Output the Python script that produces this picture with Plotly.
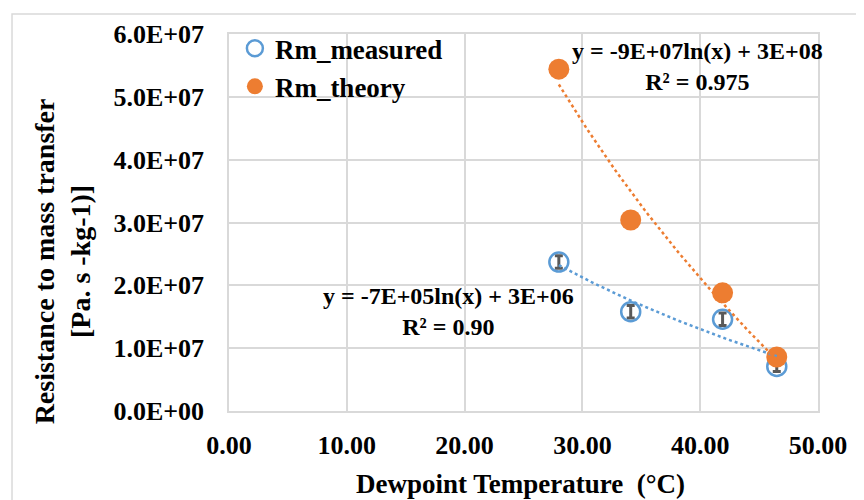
import numpy as np
import plotly.graph_objects as go

# Data
dewpoint_measured = [28.0, 34.1, 41.9, 46.5]
rm_measured = [2.37e7, 1.58e7, 1.46e7, 0.71e7]
rm_measured_err = [1.0e6, 1.0e6, 1.0e6, 0.8e6]

dewpoint_theory = [28.0, 34.1, 41.9, 46.5]
rm_theory = [5.44e7, 3.04e7, 1.88e7, 0.86e7]

x_ticks = [0, 10, 20, 30, 40, 50]
x_tick_labels = ["0.00", "10.00", "20.00", "30.00", "40.00", "50.00"]
y_ticks = [0, 1e7, 2e7, 3e7, 4e7, 5e7, 6e7]
y_tick_labels = ["0.0E+00", "1.0E+07", "2.0E+07", "3.0E+07", "4.0E+07", "5.0E+07", "6.0E+07"]

eq_measured = "y = -7E+05ln(x) + 3E+06<br>R² = 0.90"
eq_theory = "y = -9E+07ln(x) + 3E+08<br>R² = 0.975"

BLUE = "#5B9BD5"
ORANGE = "#ED7D31"
GRID = "#D9D9D9"
FONT = "Liberation Serif"


def log_fit(xs, ys):
    a, b = np.polyfit(np.log(xs), ys, 1)
    xf = np.linspace(min(xs), max(xs), 60)
    return xf, a * np.log(xf) + b


fig = go.Figure()

fig.add_trace(go.Scatter(
    x=dewpoint_measured, y=rm_measured, mode="markers", name="Rm_measured",
    marker=dict(symbol="circle-open", size=19, color=BLUE, line=dict(width=2.5, color=BLUE)),
    error_y=dict(type="data", array=rm_measured_err, visible=True,
                 color="#595959", thickness=3, width=4),
))
fig.add_trace(go.Scatter(
    x=dewpoint_theory, y=rm_theory, mode="markers", name="Rm_theory",
    marker=dict(symbol="circle", size=21, color=ORANGE),
))

xf, yf = log_fit(dewpoint_measured, rm_measured)
fig.add_trace(go.Scatter(x=xf, y=yf, mode="lines", showlegend=False, hoverinfo="skip",
                         line=dict(color=BLUE, width=2.5, dash="dot")))
xf, yf = log_fit(dewpoint_theory, rm_theory)
fig.add_trace(go.Scatter(x=xf, y=yf, mode="lines", showlegend=False, hoverinfo="skip",
                         line=dict(color=ORANGE, width=2.5, dash="dot")))

fig.update_layout(
    width=856, height=492,
    margin=dict(l=221, r=46, t=24, b=89),
    paper_bgcolor="white", plot_bgcolor="white",
    font=dict(family=FONT, color="black", size=26),
    showlegend=True,
    legend=dict(x=0.01, y=1.026, xanchor="left", yanchor="top",
                bgcolor="rgba(0,0,0,0)", font=dict(family=FONT, size=27, color="black"),
                tracegroupgap=0, itemwidth=30),
    xaxis=dict(range=[0, 50], tickmode="array", tickvals=x_ticks, ticktext=x_tick_labels,
               showgrid=True, gridcolor=GRID, gridwidth=1.5, zeroline=False,
               showline=True, linecolor=GRID, linewidth=1.5, mirror=True,
               ticks="outside", ticklen=10, tickcolor="rgba(0,0,0,0)",
               tickfont=dict(family=FONT, size=26, color="black")),
    yaxis=dict(range=[0, 6e7], tickmode="array", tickvals=y_ticks, ticktext=y_tick_labels,
               showgrid=True, gridcolor=GRID, gridwidth=1.5, zeroline=False,
               showline=True, linecolor=GRID, linewidth=1.5, mirror=True,
               ticks="outside", ticklen=18, tickcolor="rgba(0,0,0,0)",
               tickfont=dict(family=FONT, size=26, color="black")),
    annotations=[
        dict(text="<b>" + eq_theory + "</b>", x=0.796, y=0.914, xref="paper", yref="paper",
             showarrow=False, xanchor="center", yanchor="middle",
             font=dict(family=FONT, size=24, color="black")),
        dict(text="<b>" + eq_measured + "</b>", x=0.3735, y=0.265, xref="paper", yref="paper",
             showarrow=False, xanchor="center", yanchor="middle",
             font=dict(family=FONT, size=24, color="black")),
        dict(text="<b>Resistance to mass transfer<br>[Pa. s -kg-1)]</b>", x=-0.2835, y=0.397,
             xref="paper", yref="paper", showarrow=False, textangle=-90,
             xanchor="center", yanchor="middle", font=dict(family=FONT, size=28, color="black")),
        dict(text="<b>Dewpoint Temperature  (°C)</b>", x=0.495, y=-0.194,
             xref="paper", yref="paper", showarrow=False,
             xanchor="center", yanchor="middle", font=dict(family=FONT, size=27, color="black")),
    ],
    shapes=[
        dict(type="rect", xref="paper", yref="paper", x0=-0.3684, y0=-0.5, x1=1.3, y1=1.0528,
             line=dict(color=GRID, width=1.5), fillcolor="rgba(0,0,0,0)", layer="below"),
    ],
)
fig.update_layout(legend_font_weight="bold")
fig.update_xaxes(tickfont_weight="bold")
fig.update_yaxes(tickfont_weight="bold")

fig.write_html("out.html")
